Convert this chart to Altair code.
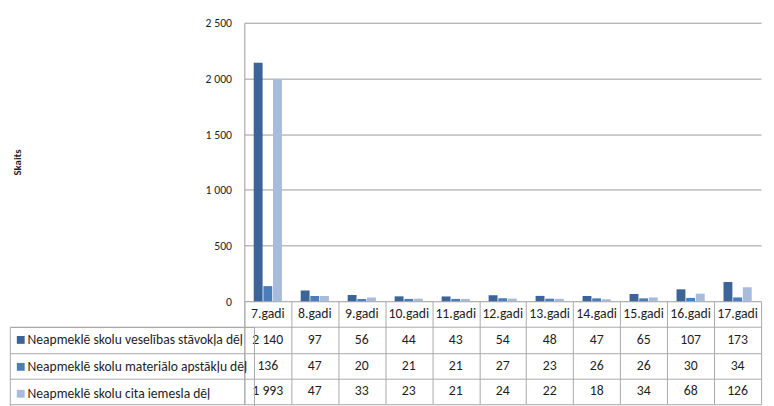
import altair as alt
import pandas as pd

categories = ["7.gadi", "8.gadi", "9.gadi", "10.gadi", "11.gadi", "12.gadi",
              "13.gadi", "14.gadi", "15.gadi", "16.gadi", "17.gadi"]
series = ["Neapmeklē skolu veselības stāvokļa dēļ",
          "Neapmeklē skolu materiālo apstākļu dēļ",
          "Neapmeklē skolu cita iemesla dēļ"]
health = [2140, 97, 56, 44, 43, 54, 48, 47, 65, 107, 173]
material = [136, 47, 20, 21, 21, 27, 23, 26, 26, 30, 34]
other = [1993, 47, 33, 23, 21, 24, 22, 18, 34, 68, 126]
colors = ["#3D6498", "#4A7EBB", "#A9BBDA"]
y_ticks = [0, 500, 1000, 1500, 2000, 2500]

FONT = "Liberation Sans Narrow, Carlito, Open Sans, sans-serif"
GRID = "#9A9A9A"
LINE = "#A8A8A8"
TXT = "#1E1E1E"
TFS = 14
LFS = 13.85


def fmt(v):
    return f"{v:,}".replace(",", " ")


rows = []
for s, vals in zip(series, [health, material, other]):
    for c, v in zip(categories, vals):
        rows.append({"category": c, "series": s, "value": v, "row": s, "text": fmt(v)})
df = pd.DataFrame(rows)

hdr = pd.DataFrame({"category": categories, "row": ["hdr"] * len(categories), "text": categories})
table_df = pd.concat([hdr, df[["category", "row", "text"]]], ignore_index=True)
row_order = ["hdr"] + series

W = 527
ROW_H = 26.3
LEFT = 239.15

top = alt.Chart(df).mark_bar().encode(
    x=alt.X("category:N", sort=categories,
            scale=alt.Scale(domain=categories, paddingInner=0.4, paddingOuter=0.2),
            axis=None),
    xOffset=alt.XOffset("series:N", sort=series,
                        scale=alt.Scale(domain=series, paddingInner=0.08)),
    y=alt.Y("value:Q", scale=alt.Scale(domain=[0, 2500], nice=False),
            axis=alt.Axis(values=y_ticks,
                          labelExpr="replace(format(datum.value, ','), ',', ' ')",
                          title="Skaits", titleFontWeight="bold", titleFontSize=11,
                          titleFont=FONT, titleColor=TXT, titlePadding=186,
                          grid=True, gridColor=GRID, domainColor=GRID,
                          ticks=False, labelPadding=13, labelFontSize=12,
                          labelFont=FONT, labelColor=TXT)),
    color=alt.Color("series:N", sort=series,
                    scale=alt.Scale(domain=series, range=colors), legend=None),
).properties(width=W, height=284)

tbase = alt.Chart(table_df).encode(
    x=alt.X("category:N", sort=categories,
            scale=alt.Scale(domain=categories, paddingInner=0, paddingOuter=0),
            axis=alt.Axis(labels=False, ticks=False, domain=False, grid=True,
                          gridColor=LINE, tickBand="extent", title=None)),
    y=alt.Y("row:N", sort=row_order,
            scale=alt.Scale(domain=row_order, paddingInner=0, paddingOuter=0),
            axis=alt.Axis(values=series, labels=False, grid=True, gridColor=LINE,
                          tickBand="extent", tickSize=LEFT, tickColor=LINE,
                          domainColor=LINE, title=None)),
)
texts = tbase.mark_text(font=FONT, fontSize=TFS, color=TXT).encode(text="text:N")

pad = (ROW_H - LFS) / 2
leg_df = pd.DataFrame({"series": series})
legend_layer = alt.Chart(leg_df).mark_square(opacity=0).encode(
    color=alt.Color("series:N", sort=series,
                    scale=alt.Scale(domain=series, range=colors),
                    legend=alt.Legend(orient="none", legendX=-LEFT, legendY=ROW_H,
                                      direction="vertical", title=None,
                                      symbolType="square", symbolSize=64,
                                      symbolStrokeWidth=0, symbolOffset=-2,
                                      labelFont=FONT,
                                      labelFontSize=LFS, labelColor=TXT,
                                      labelLimit=400, labelOffset=0,
                                      rowPadding=ROW_H - LFS, padding=pad,
                                      strokeColor=LINE))
)

table = alt.layer(texts, legend_layer).properties(width=W, height=ROW_H * 4)

chart = alt.vconcat(top, table, spacing=0, bounds="flush").resolve_scale(
    x="independent", y="independent", color="independent"
).resolve_legend(color="independent").configure_view(stroke=None).properties(
    padding={"left": 1, "top": 5, "right": 5, "bottom": 5}
)

chart.save("out.html", embed_options={"renderer": "svg", "actions": False})
